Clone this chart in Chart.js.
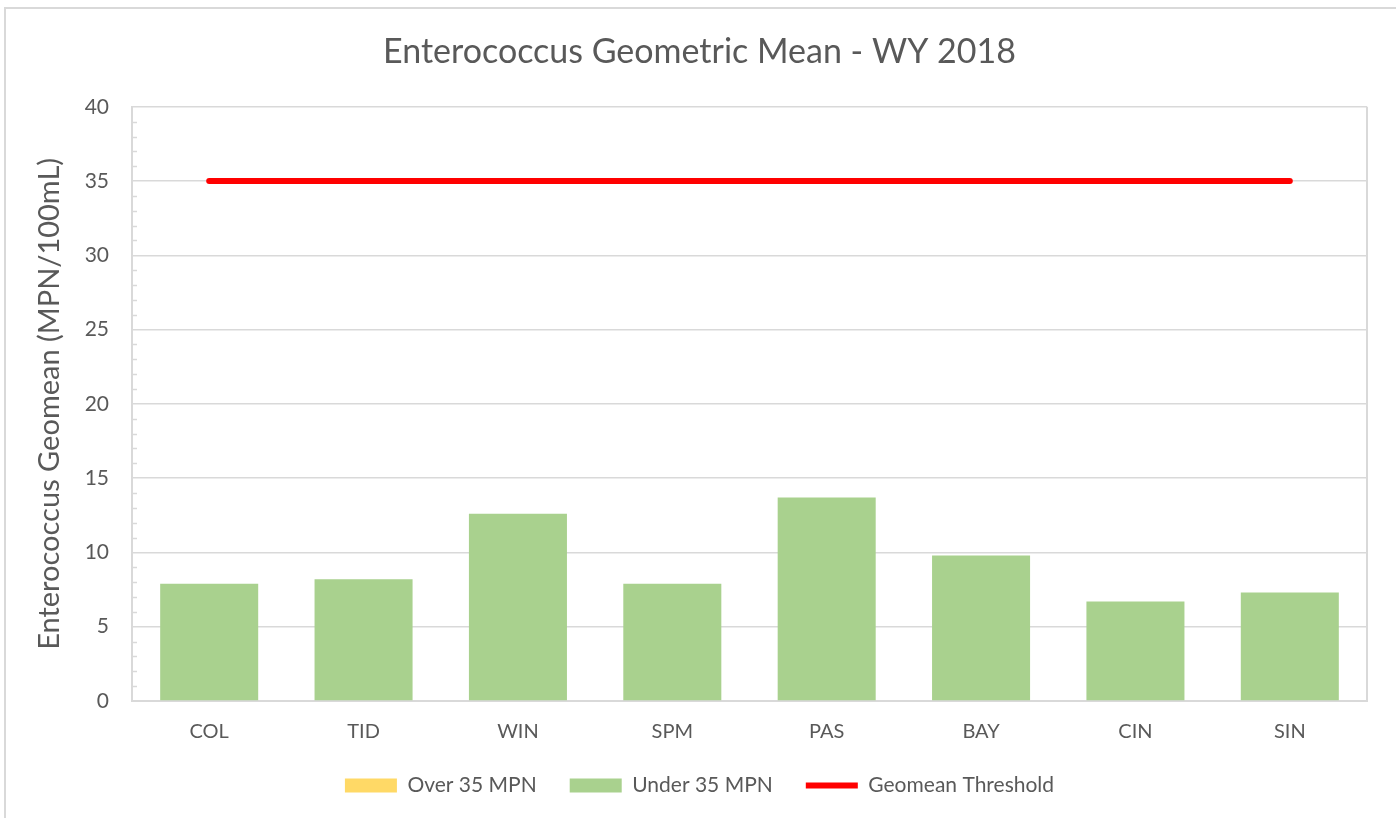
<!DOCTYPE html>
<html>
<head>
    <title>Enterococcus Geometric Mean - WY 2018</title>
    <script src="https://cdn.jsdelivr.net/npm/chart.js@4.4.1/dist/chart.umd.min.js"></script>
    <style>
        body {
            margin: 0;
            background: #ffffff;
            overflow: hidden;
        }
        #frame {
            position: absolute;
            left: 4px;
            top: 7px;
            width: 1500px;
            height: 900px;
            border: 2px solid #d9d9d9;
        }
        #chart {
            position: absolute;
            left: 0;
            top: 0;
        }
    </style>
</head>
<body>
    <div id="frame"></div>
    <canvas id="chart" width="1396" height="818"></canvas>

    <script>
        // site codes along the x axis
        const sites = ['COL', 'TID', 'WIN', 'SPM', 'PAS', 'BAY', 'CIN', 'SIN'];
        // geomean values (MPN/100mL)
        const overValues = [null, null, null, null, null, null, null, null];
        const underValues = [7.9, 8.2, 12.6, 7.9, 13.7, 9.8, 6.7, 7.3];
        const thresholdValues = [35, 35, 35, 35, 35, 35, 35, 35];
        const yTicks = [0, 5, 10, 15, 20, 25, 30, 35, 40];

        const textColor = '#595959';
        const gridColor = '#d9d9d9';
        const fontFamily = 'Lato, "Open Sans", sans-serif';

        // small minor ticks on the y axis + right border of the plot area
        const minorTicks = {
            id: 'minorTicks',
            afterDraw(chart) {
                const ctx = chart.ctx;
                const y = chart.scales.y;
                const area = chart.chartArea;
                ctx.save();
                ctx.strokeStyle = gridColor;
                ctx.lineWidth = 1.5;
                ctx.beginPath();
                for (let v = 1; v < 40; v++) {
                    if (v % 5 === 0) continue;
                    const py = Math.round(y.getPixelForValue(v)) + 0.5;
                    ctx.moveTo(area.left, py);
                    ctx.lineTo(area.left + 5, py);
                }
                ctx.stroke();
                ctx.lineWidth = 2;
                ctx.beginPath();
                ctx.moveTo(area.right, area.top);
                ctx.lineTo(area.right, area.bottom);
                ctx.stroke();
                ctx.restore();
            }
        };

        const ctx = document.getElementById('chart').getContext('2d');
        const chart = new Chart(ctx, {
            data: {
                labels: sites,
                datasets: [
                    {
                        type: 'bar',
                        label: 'Over 35 MPN',
                        data: overValues,
                        backgroundColor: '#ffd966',
                        borderWidth: 0,
                        grouped: false,
                        pointStyle: 'rect',
                        categoryPercentage: 1,
                        barPercentage: 0.635,
                        order: 2
                    },
                    {
                        type: 'bar',
                        label: 'Under 35 MPN',
                        data: underValues,
                        backgroundColor: '#a9d18e',
                        borderWidth: 0,
                        grouped: false,
                        pointStyle: 'rect',
                        categoryPercentage: 1,
                        barPercentage: 0.635,
                        order: 1
                    },
                    {
                        type: 'line',
                        label: 'Geomean Threshold',
                        data: thresholdValues,
                        borderColor: '#ff0000',
                        backgroundColor: '#ff0000',
                        borderWidth: 6,
                        borderCapStyle: 'round',
                        pointRadius: 0,
                        pointStyle: 'line',
                        order: 0
                    }
                ]
            },
            options: {
                responsive: false,
                animation: false,
                layout: {
                    padding: { left: 32, right: 29, top: 14, bottom: 12 }
                },
                plugins: {
                    title: {
                        display: true,
                        text: 'Enterococcus Geometric Mean - WY 2018',
                        color: textColor,
                        font: { family: fontFamily, size: 34, weight: 'normal' },
                        padding: { top: 18, bottom: 34 }
                    },
                    legend: {
                        position: 'bottom',
                        labels: {
                            color: textColor,
                            font: { family: fontFamily, size: 21 },
                            usePointStyle: true,
                            pointStyleWidth: 52,
                            boxWidth: 52,
                            boxHeight: 14,
                            padding: 33,
                            // keep dataset order, not draw order
                            sort: (a, b) => a.datasetIndex - b.datasetIndex
                        }
                    },
                    tooltip: { enabled: false }
                },
                scales: {
                    x: {
                        grid: { display: false, drawTicks: false },
                        border: { display: true, color: gridColor, width: 2 },
                        ticks: {
                            color: textColor,
                            font: { family: fontFamily, size: 20 },
                            padding: 19
                        },
                        afterFit(scale) { scale.height = 41; }
                    },
                    y: {
                        min: 0,
                        max: 40,
                        afterBuildTicks(scale) {
                            scale.ticks = yTicks.map(v => ({ value: v }));
                        },
                        grid: { color: gridColor, lineWidth: 1.5, drawTicks: false },
                        border: { display: true, color: gridColor, width: 2 },
                        ticks: {
                            color: textColor,
                            font: { family: fontFamily, size: 21 },
                            padding: 23
                        },
                        title: {
                            display: true,
                            text: 'Enterococcus Geomean (MPN/100mL)',
                            color: textColor,
                            font: { family: fontFamily, size: 29 },
                            padding: { top: 0, bottom: 0 }
                        },
                        afterFit(scale) { scale.width = 100; }
                    }
                }
            },
            plugins: [minorTicks]
        });
    </script>
</body>
</html>
